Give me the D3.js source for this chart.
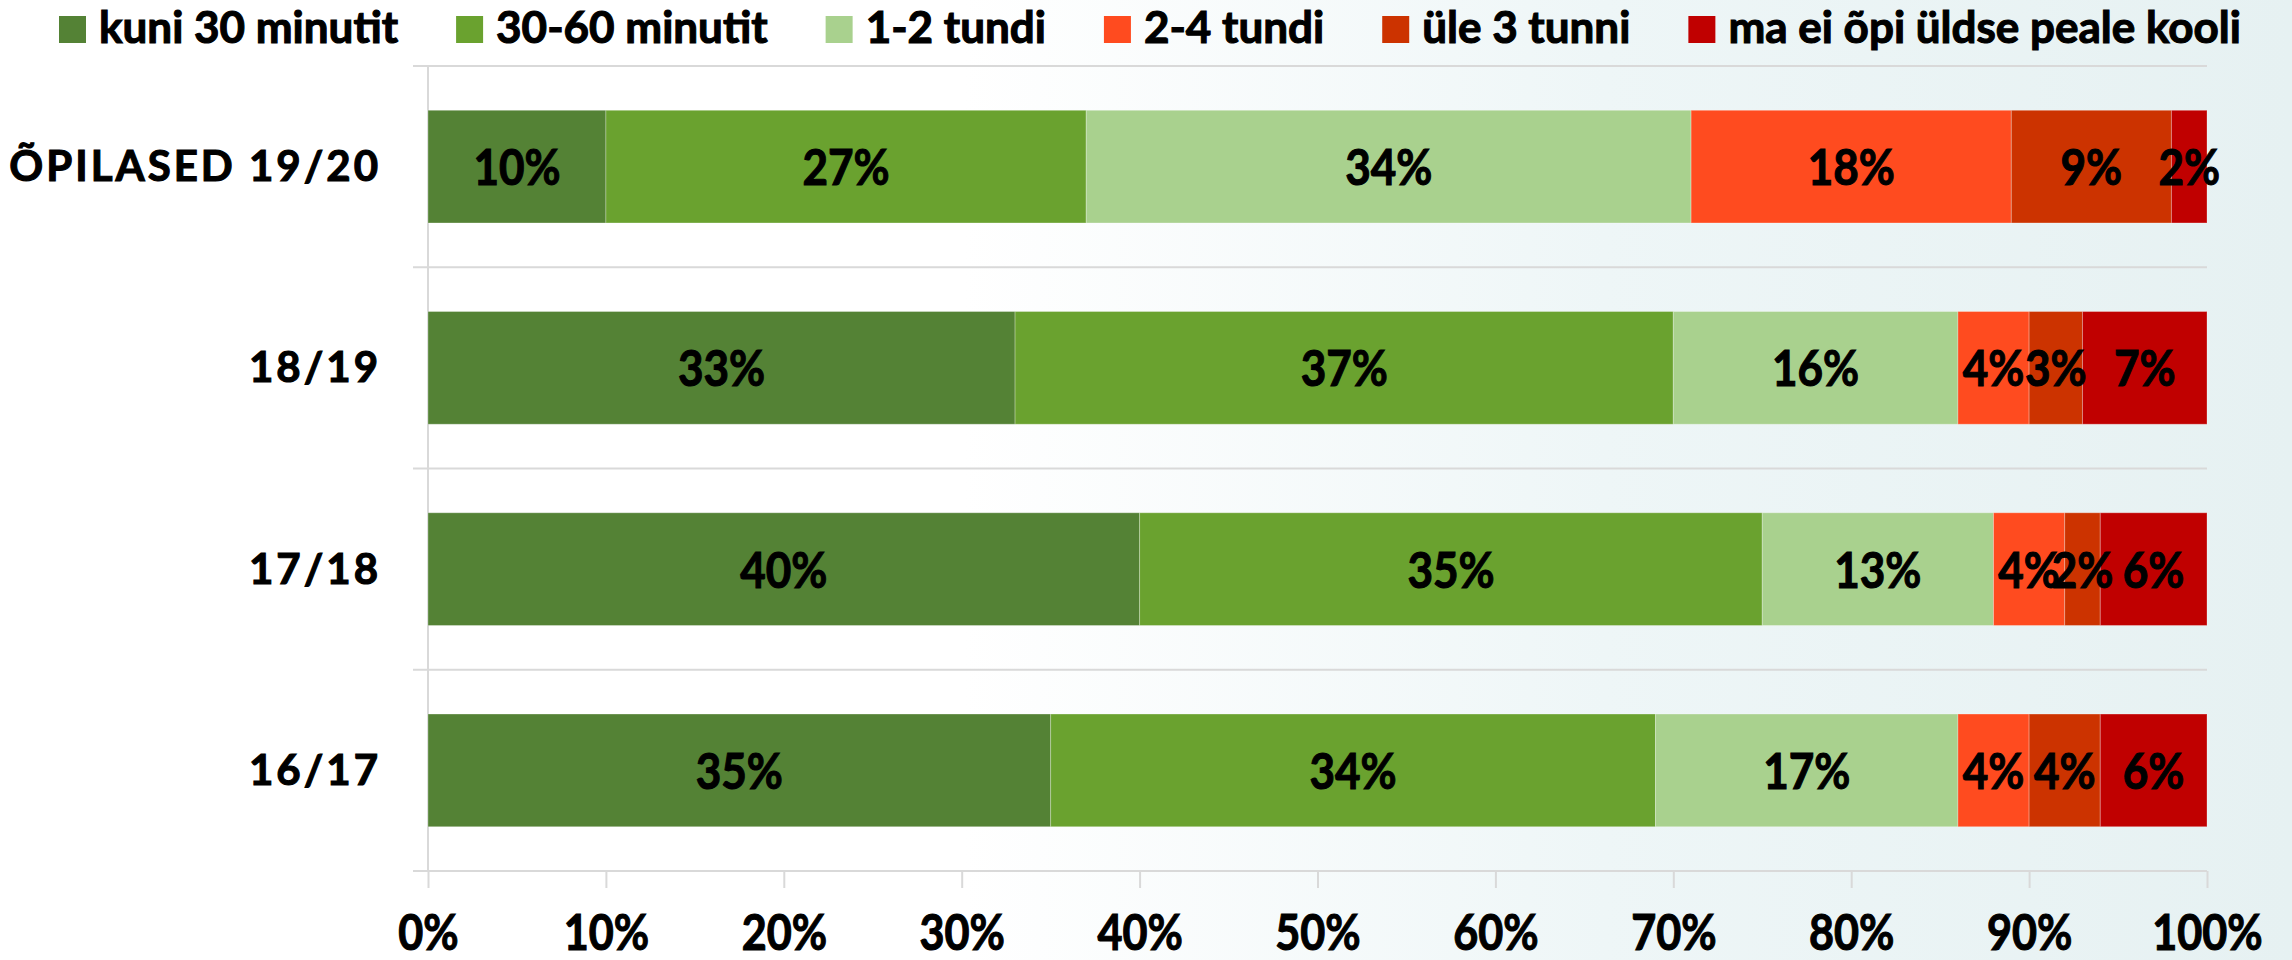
<!DOCTYPE html>
<html>
<head>
<meta charset="utf-8">
<script src="https://cdn.jsdelivr.net/npm/d3@7"></script>
<style>
  html, body { margin: 0; padding: 0; background: #ffffff; }
  svg { display: block; }
  text { font-family: "Lato", "Carlito", "Liberation Sans", sans-serif; font-weight: 700; fill: #000; stroke: #000; stroke-width: 1.1px; }
</style>
</head>
<body>
<svg id="chart" width="2292" height="960"></svg>
<script>
// ---- data ----
const categories = ["ÕPILASED 19/20", "18/19", "17/18", "16/17"];
const seriesNames = ["kuni 30 minutit", "30-60 minutit", "1-2 tundi", "2-4 tundi", "üle 3 tunni", "ma ei õpi üldse peale kooli"];
const seriesColors = ["#548235", "#6aa22f", "#a9d18e", "#ff4b1f", "#cc3300", "#c00000"];
const kuni30 = [10, 33, 40, 35];
const min30to60 = [27, 37, 35, 34];
const tundi1to2 = [34, 16, 13, 17];
const tundi2to4 = [18, 4, 4, 4];
const yle3 = [9, 3, 2, 4];
const maEi = [2, 7, 6, 6];
const xTicks = [0, 10, 20, 30, 40, 50, 60, 70, 80, 90, 100];
const xTickLabels = ["0%", "10%", "20%", "30%", "40%", "50%", "60%", "70%", "80%", "90%", "100%"];

const seriesValues = [kuni30, min30to60, tundi1to2, tundi2to4, yle3, maEi];
const rows = categories.map((c, i) => {
  const r = { cat: c };
  seriesNames.forEach((s, j) => r[s] = seriesValues[j][i]);
  return r;
});

// ---- layout ----
const W = 2292, H = 960;
const svg = d3.select("#chart");
const gridColor = "#d9d9d9";
const sx = 0.88; // horizontal squeeze to mimic narrow glyphs

// background with faint watermark tint
const defs = svg.append("defs");
const grad = defs.append("linearGradient").attr("id", "bg").attr("x1", 0).attr("x2", 1).attr("y1", 0).attr("y2", 0);
grad.append("stop").attr("offset", "0%").attr("stop-color", "#ffffff");
grad.append("stop").attr("offset", "42%").attr("stop-color", "#ffffff");
grad.append("stop").attr("offset", "70%").attr("stop-color", "#eef6f7");
grad.append("stop").attr("offset", "100%").attr("stop-color", "#e6f1f2");
svg.append("rect").attr("width", W).attr("height", H).attr("fill", "url(#bg)");

const x = d3.scaleLinear().domain([0, 100]).range([428, 2207]);
const y = d3.scaleBand().domain(categories).range([66, 871]).paddingInner(0.44).paddingOuter(0.22);

// horizontal separators (category ticks extended as gridlines)
const bounds = categories.map(c => y(c) - y.step() * 0.22).concat([871]);
svg.append("g").selectAll("line").data(bounds).join("line")
  .attr("x1", 413).attr("x2", x(100))
  .attr("y1", d => d).attr("y2", d => d)
  .attr("stroke", gridColor).attr("stroke-width", 2);

// left axis line
svg.append("line").attr("x1", x(0)).attr("x2", x(0)).attr("y1", 66).attr("y2", 871)
  .attr("stroke", gridColor).attr("stroke-width", 2);

// x axis
const xAxis = svg.append("g").attr("transform", "translate(0,871)")
  .call(d3.axisBottom(x).tickValues(xTicks).tickSize(17).tickSizeOuter(0).tickFormat((d, i) => xTickLabels[i]));
xAxis.select(".domain").remove();
xAxis.selectAll(".tick line").attr("stroke", gridColor).attr("stroke-width", 2);
xAxis.selectAll(".tick text")
  .attr("font-size", 49).attr("dy", null).attr("y", 0)
  .attr("transform", "translate(0,79) scale(" + sx + ",1)")
  .attr("text-anchor", "middle")
  .style("font-family", "Lato, sans-serif").style("font-weight", 700).attr("fill", "#000");

// stacked bars
const stack = d3.stack().keys(seriesNames)(rows);
const layers = svg.append("g").selectAll("g").data(stack).join("g")
  .attr("fill", (d, i) => seriesColors[i]);
layers.selectAll("rect").data(d => d).join("rect")
  .attr("x", d => x(d[0]))
  .attr("width", d => x(d[1]) - x(d[0]))
  .attr("y", d => y(d.data.cat))
  .attr("height", y.bandwidth())
  .attr("stroke", "rgba(255,255,255,0.28)").attr("stroke-width", 1);

// data labels
const labelG = svg.append("g");
stack.forEach((layer, i) => {
  labelG.selectAll(null).data(layer).join("text")
    .attr("transform", d => "translate(" + x((d[0] + d[1]) / 2) + "," + (y(d.data.cat) + y.bandwidth() / 2 + 18.5) + ") scale(" + sx + ",1)")
    .attr("text-anchor", "middle")
    .attr("font-size", 50)
    .text(d => (d[1] - d[0]) + "%");
});

// category labels
svg.append("g").selectAll("text").data(categories).join("text")
  .attr("x", 381).attr("y", d => y(d) + y.bandwidth() / 2 + 14.5)
  .attr("text-anchor", "end")
  .attr("font-size", 42)
  .attr("letter-spacing", 3)
  .text(d => d);

// legend
const legend = svg.append("g");
let lx = 59;
seriesNames.forEach((s, i) => {
  legend.append("rect").attr("x", lx).attr("y", 16).attr("width", 27).attr("height", 27).attr("fill", seriesColors[i]);
  const t = legend.append("text").attr("x", lx + 40).attr("y", 43).attr("font-size", 44).text(s);
  const w = t.node().getComputedTextLength();
  lx = lx + 40 + w + 58;
});
</script>
</body>
</html>
